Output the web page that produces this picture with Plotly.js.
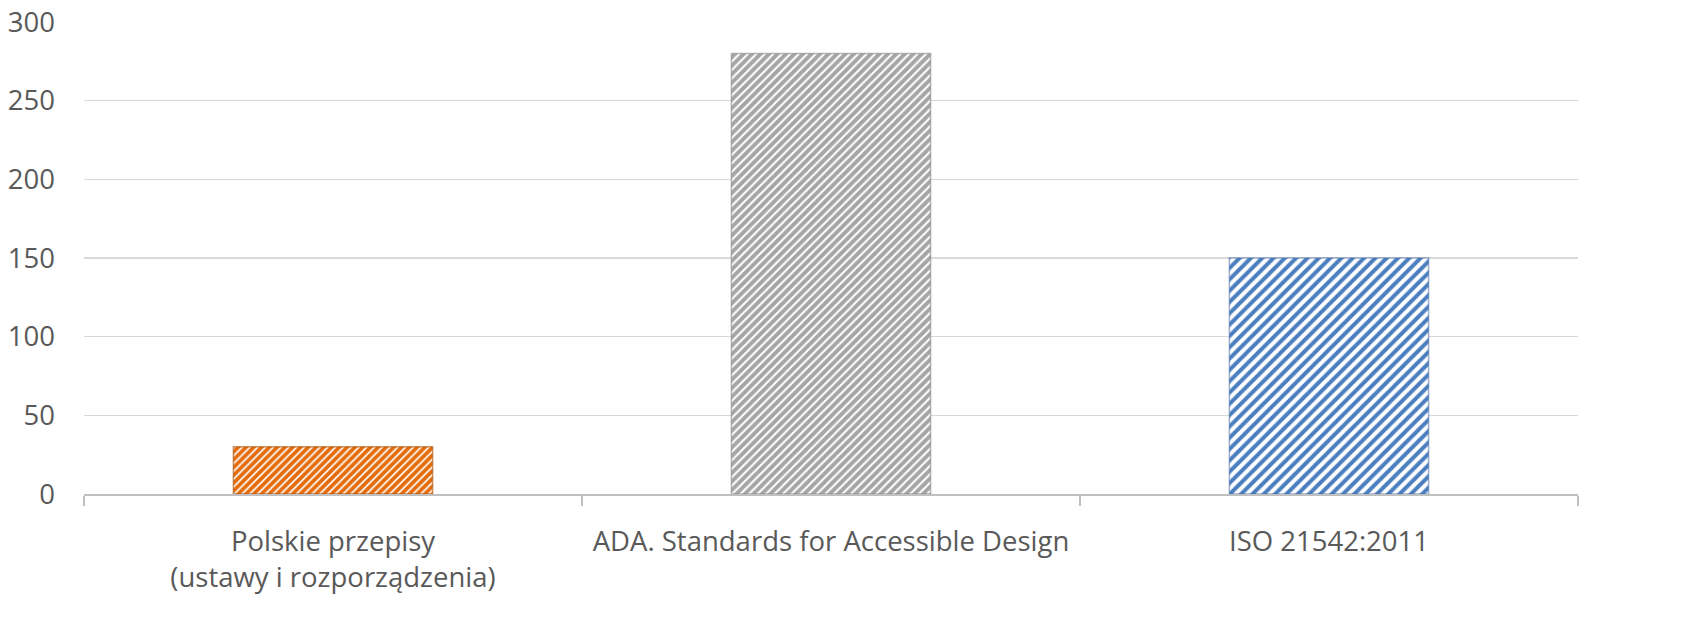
<!DOCTYPE html>
<html>
<head>
<meta charset="utf-8">
<script src="https://cdn.plot.ly/plotly-3.0.1.min.js"></script>
<style>
  html, body { margin: 0; padding: 0; background: #ffffff; }
  #chart { width: 1682px; height: 638px; }
</style>
</head>
<body>
<div id="chart"></div>
<script>
var categories = ["Polskie przepisy<br>(ustawy i rozporządzenia)", "ADA. Standards for Accessible Design", "ISO 21542:2011"];
var values = [30, 280, 150];
var yTickValues = [0, 50, 100, 150, 200, 250, 300];

var edgeColors = ["rgba(170,80,5,0.6)", "rgba(135,135,135,0.6)", "rgba(60,100,160,0.5)"];
var patternFg = ["#ffffff", "#ffffff", "#4A7EBF"];
var patternBg = ["#E46C0A", "#A5A5A5", "#ffffff"];
var patternSize = [5.5, 6, 8];
var patternSolidity = [0.3, 0.35, 0.5];

var traces = categories.map(function (cat, i) {
  return {
    type: "bar",
    x: [cat],
    y: [values[i]],
    width: 0.4,
    marker: {
      color: patternBg[i],
      line: { color: edgeColors[i], width: 1.5 },
      pattern: {
        shape: "/",
        fgcolor: patternFg[i],
        bgcolor: patternBg[i],
        size: patternSize[i],
        solidity: patternSolidity[i],
        fillmode: "replace"
      }
    },
    hoverinfo: "x+y"
  };
});

var layout = {
  width: 1682,
  height: 638,
  margin: { l: 84, r: 104, t: 22, b: 144, pad: 0 },
  paper_bgcolor: "#ffffff",
  plot_bgcolor: "#ffffff",
  showlegend: false,
  barmode: "overlay",
  font: { family: "'Open Sans', 'Noto Sans', sans-serif", size: 27.5, color: "#595959" },
  xaxis: {
    type: "category",
    categoryorder: "array",
    categoryarray: categories,
    showgrid: false,
    showline: true,
    linecolor: "#BFBFBF",
    linewidth: 2,
    ticks: "outside",
    tickson: "boundaries",
    ticklen: 10,
    tickwidth: 2,
    tickcolor: "#BFBFBF",
    ticklabelstandoff: 22,
    tickfont: { size: 27.5, color: "#595959" },
    zeroline: false,
    fixedrange: true
  },
  yaxis: {
    range: [0, 300],
    tickvals: yTickValues,
    ticktext: yTickValues.map(String),
    showgrid: true,
    gridcolor: "#D9D9D9",
    gridwidth: 1.5,
    showline: false,
    zeroline: false,
    ticks: "",
    ticklabelstandoff: 28,
    tickfont: { size: 27.5, color: "#595959" },
    fixedrange: true
  }
};

Plotly.newPlot("chart", traces, layout, { displayModeBar: false, staticPlot: true });
</script>
</body>
</html>
